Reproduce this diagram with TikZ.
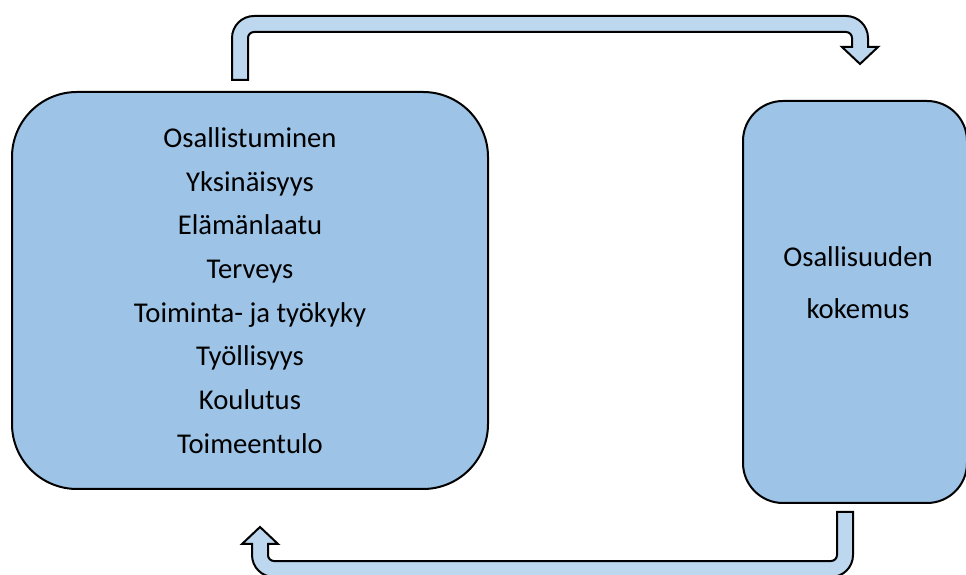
\documentclass[tikz,border=0pt]{standalone}
\usepackage{fontspec}
\setmainfont{Carlito}
\definecolor{boxblue}{HTML}{9DC3E6}
\definecolor{arrowblue}{HTML}{BDD7EE}
\begin{document}
\begin{tikzpicture}[x=0.75pt,y=0.75pt,
  box/.style={draw=black,line width=1.5pt,fill=boxblue,rounded corners=#1,inner sep=0pt},
  blockarrow/.style={draw=black,line width=1.5pt,fill=arrowblue,line join=miter},
  lbl/.style={align=center,inner sep=0pt}]
\useasboundingbox (0,0) rectangle (966,574);
\clip (0,0) rectangle (966,574);
% boxes
\node[box=48.75pt,minimum width=357pt,minimum height=297.75pt,lbl,
      font=\fontsize{21.5}{32.8}\selectfont] (left) at (250,283.5)
  {Osallistuminen\\Yksinäisyys\\Elämänlaatu\\Terveys\\Toiminta- ja työkyky\\Työllisyys\\Koulutus\\Toimeentulo};
\node[box=30pt,minimum width=168pt,minimum height=301.5pt] (right) at (855,272) {};
\node[lbl,font=\fontsize{21.5}{39}\selectfont] (righttext) at (858,291) {Osallisuuden\\kokemus};
% top block arrow: left box -> right box
\draw[blockarrow] (232,494) -- (232,536) arc[start angle=180,end angle=90,radius=22]
  -- (846,558) arc[start angle=90,end angle=0,radius=22]
  -- (868,527) -- (878,527) -- (860,510) -- (842,527) -- (852,527)
  -- (852,536) arc[start angle=0,end angle=90,radius=6]
  -- (254,542) arc[start angle=90,end angle=180,radius=6]
  -- (248,494) -- cycle;
% bottom block arrow: right box -> left box
\draw[blockarrow] (853,62) -- (853,19) arc[start angle=0,end angle=-90,radius=22]
  -- (274,-3) arc[start angle=270,end angle=180,radius=22]
  -- (252,30) -- (242,30) -- (260,47) -- (278,30) -- (268,30)
  -- (268,19) arc[start angle=180,end angle=270,radius=6]
  -- (831,13) arc[start angle=270,end angle=360,radius=6]
  -- (837,62) -- cycle;
\end{tikzpicture}
\end{document}
